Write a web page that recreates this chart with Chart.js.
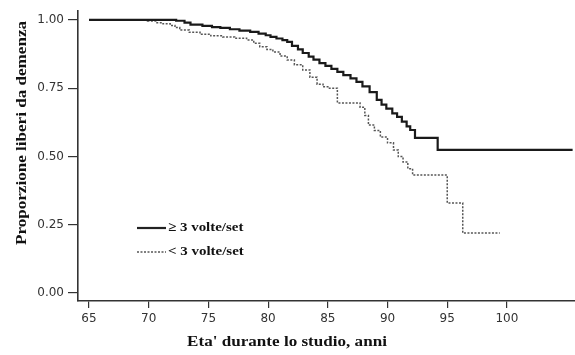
<!DOCTYPE html>
<html><head><meta charset="utf-8">
<script src="https://cdn.jsdelivr.net/npm/chart.js@4/dist/chart.umd.min.js"></script>
<style>html,body{margin:0;padding:0;background:#fff}#w{width:575px;height:355px}</style>
</head><body><div id="w"><canvas id="c"></canvas></div>
<script>
const xTicks = [65, 70, 75, 80, 85, 90, 95, 100];
const yTicks = [0, 0.25, 0.5, 0.75, 1.0];
const seriesNames = ["\u2265 3 volte/set", "< 3 volte/set"];
const xTitle = "Eta' durante lo studio, anni";
const yTitle = "Proporzione liberi da demenza";
// Kaplan-Meier curves: ages at events and survival after each event
const ageHigh = [65, 72.3, 73.0, 73.5, 74.5, 75.3, 76.0, 76.8, 77.6, 78.5, 79.2, 79.8, 80.2, 80.7, 81.2, 81.6, 82.0, 82.5, 82.9, 83.4, 83.8, 84.3, 84.8, 85.3, 85.8, 86.3, 86.9, 87.4, 87.9, 88.5, 89.1, 89.5, 89.9, 90.4, 90.8, 91.2, 91.6, 91.9, 92.3, 94.2, 105.5];
const survHigh = [1.0, 0.997, 0.99, 0.983, 0.978, 0.974, 0.971, 0.966, 0.961, 0.956, 0.95, 0.944, 0.938, 0.932, 0.926, 0.92, 0.905, 0.892, 0.879, 0.866, 0.855, 0.842, 0.832, 0.821, 0.81, 0.798, 0.786, 0.773, 0.757, 0.736, 0.707, 0.69, 0.675, 0.658, 0.645, 0.628, 0.61, 0.597, 0.568, 0.524, 0.524];
const ageLow = [65, 69.9, 70.6, 71.2, 71.8, 72.2, 72.6, 73.4, 74.3, 75.2, 76.2, 77.2, 78.2, 78.8, 79.3, 79.9, 80.4, 81.0, 81.6, 82.2, 82.9, 83.5, 84.1, 84.6, 85.0, 85.8, 87.7, 88.1, 88.4, 88.9, 89.4, 90.0, 90.5, 90.9, 91.3, 91.7, 92.1, 95.0, 96.3, 99.4];
const survLow = [1.0, 0.996, 0.99, 0.986, 0.98, 0.972, 0.963, 0.955, 0.948, 0.942, 0.938, 0.933, 0.927, 0.915, 0.902, 0.892, 0.883, 0.868, 0.853, 0.836, 0.817, 0.79, 0.765, 0.755, 0.75, 0.696, 0.68, 0.65, 0.615, 0.595, 0.571, 0.55, 0.524, 0.5, 0.48, 0.455, 0.432, 0.33, 0.22, 0.22];

const toPts = (a, s) => a.map((x, i) => ({x: x, y: s[i]}));

function stretchedText(ctx, text, x, y, sx) {
  ctx.save();
  ctx.translate(x, y);
  ctx.scale(sx, 1);
  ctx.fillText(text, 0, 0);
  ctx.restore();
}

const overlay = {
  id: 'overlay',
  afterDraw(chart) {
    const ctx = chart.ctx;
    ctx.save();
    // legend
    const lx0 = 137, lx1 = 166;
    const ly = [228, 252];
    ctx.strokeStyle = '#222';
    ctx.lineWidth = 2.2; ctx.setLineDash([]);
    ctx.beginPath(); ctx.moveTo(lx0, ly[0]); ctx.lineTo(lx1, ly[0]); ctx.stroke();
    ctx.strokeStyle = '#555';
    ctx.lineWidth = 1.5; ctx.setLineDash([2, 1.5]);
    ctx.beginPath(); ctx.moveTo(lx0, ly[1]); ctx.lineTo(lx1, ly[1]); ctx.stroke();
    ctx.setLineDash([]);
    ctx.fillStyle = '#111';
    ctx.font = 'bold 13px "Liberation Serif"';
    ctx.textBaseline = 'middle'; ctx.textAlign = 'left';
    stretchedText(ctx, seriesNames[0], 168, ly[0], 1.15);
    stretchedText(ctx, seriesNames[1], 168, ly[1], 1.15);
    // axis titles
    ctx.font = 'bold 14px "Liberation Serif"';
    ctx.textAlign = 'center';
    stretchedText(ctx, xTitle, 287, 342, 1.22);
    ctx.translate(22, 133);
    ctx.rotate(-Math.PI / 2);
    stretchedText(ctx, yTitle, 0, 0, 1.22);
    ctx.restore();
  }
};

new Chart(document.getElementById('c'), {
  type: 'line',
  data: {
    datasets: [
      {label: seriesNames[0], data: toPts(ageHigh, survHigh), stepped: true, borderColor: '#1a1a1a', borderWidth: 2.2, pointRadius: 0, fill: false},
      {label: seriesNames[1], data: toPts(ageLow, survLow), stepped: true, borderColor: '#555', borderWidth: 1.5, borderDash: [2, 1.5], pointRadius: 0, fill: false}
    ]
  },
  options: {
    responsive: true, maintainAspectRatio: false, animation: false,
    layout: {padding: {top: 11, right: 0, left: 0, bottom: 0}},
    plugins: {legend: {display: false}, tooltip: {enabled: false}},
    scales: {
      x: {
        type: 'linear', min: 64.08, max: 105.7,
        afterBuildTicks: s => { s.ticks = xTicks.map(v => ({value: v})); },
        afterFit: s => { s.height = 54; },
        border: {display: true, color: '#333', width: 1.6},
        grid: {display: true, drawOnChartArea: false, drawTicks: true, tickLength: 7, color: '#333', lineWidth: 1.2},
        ticks: {color: '#333', font: {family: 'DejaVu Sans', size: 12}, padding: 4, maxRotation: 0, autoSkip: false}
      },
      y: {
        min: -0.029, max: 1.032,
        afterBuildTicks: s => { s.ticks = yTicks.map(v => ({value: v})); },
        afterFit: s => { s.width = 78; },
        border: {display: true, color: '#333', width: 1.6},
        grid: {display: true, drawOnChartArea: false, drawTicks: true, tickLength: 10, color: '#333', lineWidth: 1.2},
        ticks: {color: '#333', font: {family: 'DejaVu Sans', size: 12}, padding: 4, callback: v => v.toFixed(2)}
      }
    }
  },
  plugins: [overlay]
});
</script>
</body></html>
